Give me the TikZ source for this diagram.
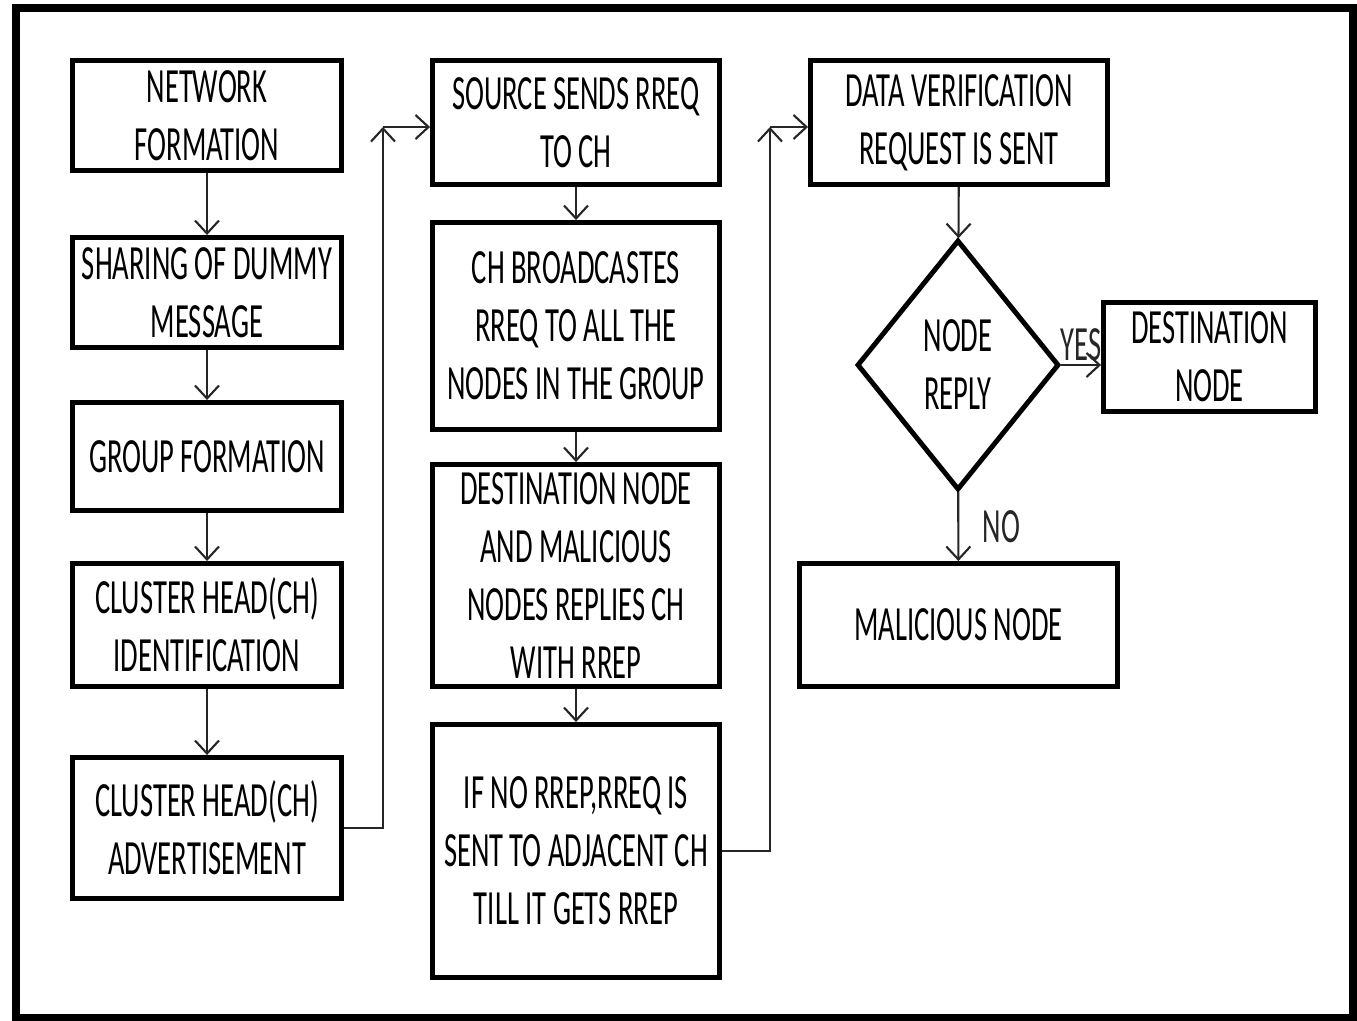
\documentclass[tikz,border=0pt]{standalone}
\usepackage{fontspec}
\setmainfont{Carlito}[FakeStretch=0.58]
\usepackage{tikz}
\usetikzlibrary{
  arrows.meta,
  shapes.geometric,
}
\newcommand{\flowfont}{\fontsize{14}{16.5}\selectfont}
\tikzstyle{basicblock}=[line width=1.4pt, draw, align=center, inner sep=0pt, font=\flowfont]
\tikzstyle{stepblock}=[basicblock, rectangle, minimum width=26.9mm]
\tikzstyle{midstepblock}=[stepblock, minimum width=28.7mm]
\tikzstyle{decideblock}=[basicblock, diamond, minimum width=20.2mm, minimum height=25mm]
\tikzstyle{flowline}=[->, line width=0.6pt, black!85]
\tikzstyle{flowlabel}=[font=\flowfont, inner sep=1pt]
\tikzstyle{framebox}=[line width=2.2pt]

\begin{document}
\begin{tikzpicture}[x=0.1mm, y=-0.1mm, >={Straight Barb[length=1.3mm,width=2.4mm]}]
	\useasboundingbox (0,0) rectangle (1357,1021);
	\draw [framebox] (16,8) rectangle (1353,1018);
	% left column
	\node (network) [stepblock, minimum height=11mm] at (207,115.5) {NETWORK\\FORMATION};
	\path (network) + (0,177) node (dummy) [stepblock, minimum height=11mm] {SHARING OF DUMMY\\MESSAGE};
	\path (network) + (0,341) node (group) [stepblock, minimum height=10.8mm] {GROUP FORMATION};
	\path (network) + (0,509.5) node (chident) [stepblock, minimum height=12.3mm] {CLUSTER HEAD(CH)\\IDENTIFICATION};
	\path (network) + (0,712.5) node (chadvert) [stepblock, minimum height=14.1mm] {CLUSTER HEAD(CH)\\ADVERTISEMENT};
	% middle column
	\path (network) + (369,7) node (source) [midstepblock, minimum height=12.4mm] {SOURCE SENDS RREQ\\TO CH};
	\path (network) + (369,210.5) node (broadcast) [midstepblock, minimum height=20.7mm] {CH BROADCASTES\\RREQ TO ALL THE\\NODES IN THE GROUP};
	\path (network) + (369,460) node (replies) [midstepblock, minimum height=22.2mm] {DESTINATION NODE\\AND MALICIOUS\\NODES REPLIES CH\\WITH RREP};
	\path (network) + (369,735.5) node (adjacent) [midstepblock, minimum height=25.3mm] {IF NO RREP,RREQ IS\\SENT TO ADJACENT CH\\TILL IT GETS RREP};
	% right column
	\path (network) + (752,7) node (verify) [stepblock, minimum width=29.7mm, minimum height=12.4mm] {DATA VERIFICATION\\REQUEST IS SENT};
	\path (network) + (751,249.5) node (nodereply) [decideblock] {NODE\\REPLY};
	\path (network) + (1002.5,241.5) node (destnode) [stepblock, minimum width=21.2mm, minimum height=10.9mm] {DESTINATION\\NODE};
	\path (network) + (751.5,509.5) node (malicious) [stepblock, minimum width=31.8mm, minimum height=12.3mm] {MALICIOUS NODE};
	\coordinate (upleft) at (383,127);
	\coordinate (upright) at (770,127);
	\draw [flowline] (network) -- (dummy);
	\draw [flowline] (dummy) -- (group);
	\draw [flowline] (group) -- (chident);
	\draw [flowline] (chident) -- (chadvert);
	\draw [flowline] (chadvert.east) -| (upleft);
	\draw [flowline] (upleft) -- (source.west |- upleft);
	\draw [flowline] (source) -- (broadcast);
	\draw [flowline] (broadcast) -- (replies);
	\draw [flowline] (replies) -- (adjacent);
	\draw [flowline] (adjacent.east) -| (upright);
	\draw [flowline] (upright) -- (verify.west |- upright);
	\draw [flowline] (verify) -- (nodereply);
	\draw [flowline] (nodereply.east) -- node [flowlabel, above] {YES} (destnode.west |- nodereply.east);
	\draw [flowline] (nodereply) -- node [flowlabel, right, xshift=2mm] {NO} (malicious);
\end{tikzpicture}
\end{document}
